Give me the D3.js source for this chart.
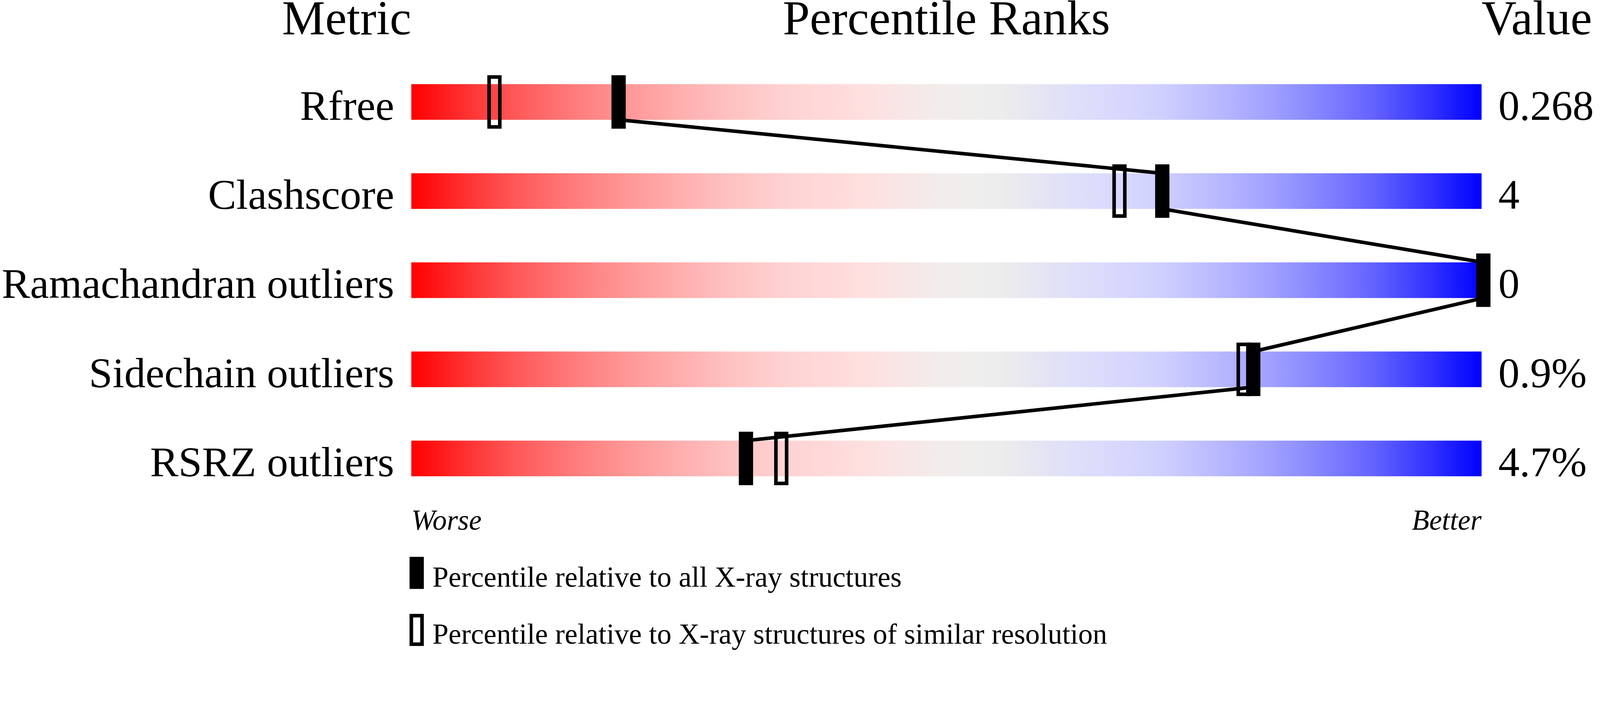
<!DOCTYPE html>
<html>
<head>
<meta charset="utf-8">
<script src="https://cdn.jsdelivr.net/npm/d3@7"></script>
<style>
    html, body { margin: 0; padding: 0; background: white; overflow: hidden; }
    svg { display: block; }
    text { font-family: "Liberation Serif", "Times New Roman", serif; }
</style>
</head>
<body>
<svg id="chart"></svg>
<script>
// values
const metrics = ["Rfree", "Clashscore", "Ramachandran outliers", "Sidechain outliers", "RSRZ outliers"]
const values = ["0.268", "4", "0", "0.9%", "4.7%"]
const pctAll = [19.2, 70.0, 100, 78.5, 31.1]
const pctSimilar = [7.6, 66.0, null, 77.6, 34.4]
const headers = ["Metric", "Percentile Ranks", "Value"]
const legendLabels = ["Percentile relative to all X-ray structures", "Percentile relative to X-ray structures of similar resolution"]

const gradientStops = [
    [0, "#ff0000"], [5, "#ff3030"], [10, "#ff5a5a"], [15, "#ff7a7a"], [20, "#ff9696"],
    [25, "#ffaeae"], [30, "#ffc2c2"], [35, "#ffd2d2"], [42, "#ffdfdf"], [50, "#f2eded"],
    [55, "#ededed"], [60, "#e2e2f6"], [65, "#dadafd"], [70, "#d0d0ff"], [75, "#babaff"],
    [80, "#a2a2ff"], [85, "#8484ff"], [90, "#6262ff"], [95, "#3434ff"], [100, "#0000ff"]
]

const width = 4485
const height = 1824
const barX0 = 1153
const barX1 = 4153
const barH = 100
const markerW = 40
const markerH = 150
const lineW = 10

// draw in reference pixels, fit to whatever the viewport is
const vw = document.documentElement.clientWidth || window.innerWidth
const svg = d3.select("#chart")
    .attr("viewBox", `0 0 ${width} ${height}`)
    .attr("width", vw)
    .attr("height", vw * height / width)

const x = d3.scaleLinear()
    .domain([0, 100])
    .range([barX0 + 5, barX1 + 5])

const y = d3.scalePoint()
    .domain(metrics)
    .range([286, 1286])

const grad = svg.append("defs")
    .append("linearGradient")
    .attr("id", "slider")
    .attr("x1", "0%")
    .attr("x2", "100%")

grad.selectAll("stop")
    .data(gradientStops)
    .join("stop")
    .attr("offset", d => d[0] + "%")
    .attr("stop-color", d => d[1])

// headers
svg.append("text")
    .text(headers[0])
    .attr("x", barX0)
    .attr("y", 96)
    .attr("text-anchor", "end")
    .attr("font-size", 136)

svg.append("text")
    .text(headers[1])
    .attr("x", (barX0 + barX1) / 2)
    .attr("y", 96)
    .attr("text-anchor", "middle")
    .attr("font-size", 136)

svg.append("text")
    .text(headers[2])
    .attr("x", barX1)
    .attr("y", 96)
    .attr("text-anchor", "start")
    .attr("font-size", 136)

// bars
svg.selectAll(".bar")
    .data(metrics)
    .join("rect")
    .attr("class", "bar")
    .attr("x", barX0)
    .attr("y", d => y(d) - barH / 2)
    .attr("width", barX1 - barX0)
    .attr("height", barH)
    .attr("fill", "url(#slider)")

svg.selectAll(".label")
    .data(metrics)
    .join("text")
    .attr("class", "label")
    .text(d => d)
    .attr("x", barX0 - 48)
    .attr("y", d => y(d) + barH / 2)
    .attr("text-anchor", "end")
    .attr("font-size", 119)

svg.selectAll(".value")
    .data(metrics)
    .join("text")
    .attr("class", "value")
    .text((d, i) => values[i])
    .attr("x", barX1 + 47)
    .attr("y", d => y(d) + barH / 2)
    .attr("text-anchor", "start")
    .attr("font-size", 119)

// hollow markers (similar resolution)
const similar = metrics.map((m, i) => ({m: m, p: pctSimilar[i]})).filter(d => d.p != null)

svg.selectAll(".hollow")
    .data(similar)
    .join("rect")
    .attr("class", "hollow")
    .attr("x", d => x(d.p) - markerW / 2 + lineW / 2)
    .attr("y", d => y(d.m) - markerH / 2 + lineW / 2)
    .attr("width", markerW - lineW)
    .attr("height", markerH - lineW)
    .attr("fill", "none")
    .attr("stroke", "black")
    .attr("stroke-width", lineW)

// connecting line through the filled markers
const pts = []
metrics.forEach((m, i) => {
    pts.push([x(pctAll[i]), y(m) - barH / 2])
    pts.push([x(pctAll[i]), y(m) + barH / 2])
})

svg.append("path")
    .attr("d", d3.line()(pts))
    .attr("fill", "none")
    .attr("stroke", "black")
    .attr("stroke-width", lineW)

// filled markers (all structures)
svg.selectAll(".filled")
    .data(metrics)
    .join("rect")
    .attr("class", "filled")
    .attr("x", (d, i) => x(pctAll[i]) - markerW / 2)
    .attr("y", d => y(d) - markerH / 2)
    .attr("width", markerW)
    .attr("height", markerH)
    .attr("fill", "black")

// worse / better
svg.append("text")
    .text("Worse")
    .attr("x", barX0)
    .attr("y", 1486)
    .attr("text-anchor", "start")
    .attr("font-style", "italic")
    .attr("font-size", 80)

svg.append("text")
    .text("Better")
    .attr("x", barX1)
    .attr("y", 1486)
    .attr("text-anchor", "end")
    .attr("font-style", "italic")
    .attr("font-size", 80)

// legend
const legendY = [1562, 1722]

svg.append("rect")
    .attr("x", 1148)
    .attr("y", legendY[0])
    .attr("width", markerW)
    .attr("height", 90)
    .attr("fill", "black")

svg.append("rect")
    .attr("x", 1148 + lineW / 2)
    .attr("y", legendY[1] + lineW / 2)
    .attr("width", markerW - lineW)
    .attr("height", 90 - lineW)
    .attr("fill", "none")
    .attr("stroke", "black")
    .attr("stroke-width", lineW)

svg.selectAll(".legend")
    .data(legendLabels)
    .join("text")
    .attr("class", "legend")
    .text(d => d)
    .attr("x", 1212)
    .attr("y", (d, i) => legendY[i] + 84)
    .attr("text-anchor", "start")
    .attr("font-size", 81)
</script>
</body>
</html>
